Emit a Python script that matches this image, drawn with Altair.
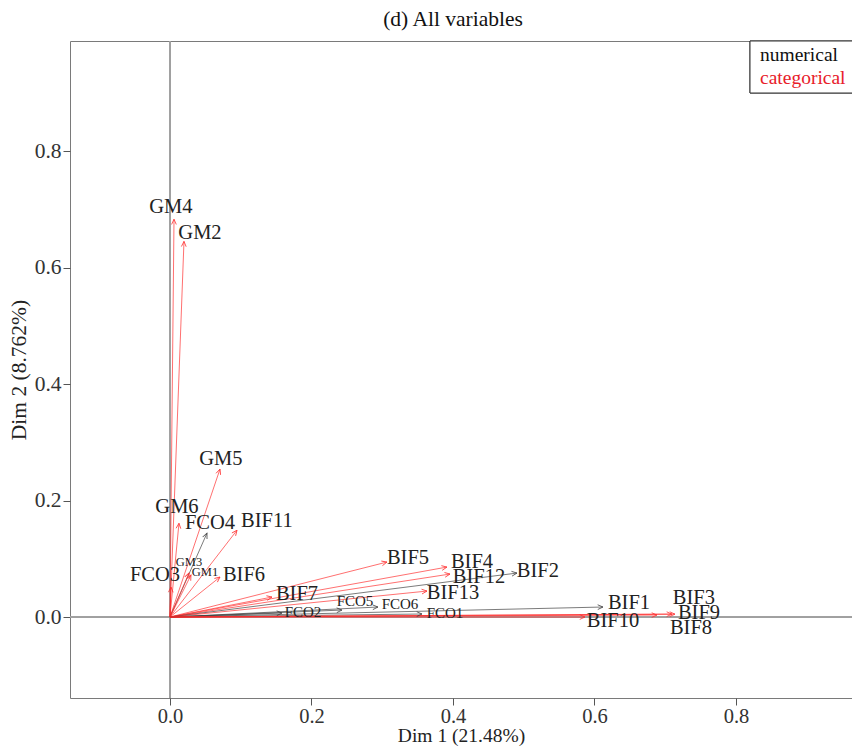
import altair as alt
import pandas as pd

# variable names, type, arrow tips (Dim1, Dim2) and label positions
names = ["GM4", "GM2", "GM5", "GM6", "FCO4", "BIF11", "GM3", "GM1", "FCO3",
         "BIF6", "BIF7", "BIF5", "BIF4", "BIF12", "BIF2", "BIF13", "FCO2",
         "FCO5", "FCO6", "FCO1", "BIF1", "BIF10", "BIF3", "BIF9", "BIF8"]
vtype = ["categorical", "categorical", "categorical", "categorical", "numerical",
         "categorical", "categorical", "categorical", "categorical", "categorical",
         "categorical", "categorical", "categorical", "categorical", "numerical",
         "categorical", "numerical", "numerical", "numerical", "numerical",
         "numerical", "categorical", "categorical", "categorical", "categorical"]
dim1 = [0.0057, 0.0198, 0.0707, 0.0127, 0.0523, 0.0947, 0.0269, 0.0297, 0.0014,
        0.0707, 0.1442, 0.3067, 0.3915, 0.3958, 0.4905, 0.3633, 0.1583,
        0.2431, 0.2940, 0.3562, 0.6120, 0.5866, 0.7095, 0.7138, 0.6883]
dim2 = [0.683, 0.645, 0.254, 0.161, 0.144, 0.149, 0.0755, 0.072, 0.0515,
        0.0687, 0.0343, 0.0944, 0.0858, 0.0738, 0.0755, 0.0446, 0.0069,
        0.012, 0.0172, 0.0052, 0.0172, 0.0, 0.005, 0.005, 0.0034]
lab_x = [0.0014, 0.0424, 0.072, 0.0099, 0.0565, 0.137, 0.0269, 0.0495, -0.0212,
         0.1046, 0.1795, 0.3364, 0.4269, 0.4367, 0.5201, 0.400, 0.188,
         0.2615, 0.3251, 0.3887, 0.6488, 0.6261, 0.7406, 0.7477, 0.7364]
lab_y = [0.704, 0.660, 0.271, 0.189, 0.161, 0.165, 0.0944, 0.0773, 0.0721,
         0.0721, 0.0395, 0.1013, 0.0944, 0.0687, 0.079, 0.0412, 0.0086,
         0.0275, 0.0223, 0.0069, 0.024, -0.0069, 0.0326, 0.0069, -0.0189]
lab_size = [20.5, 20.5, 20.5, 20.5, 20.5, 20.5, 12.5, 12.5, 20.5,
            20.5, 20.5, 20.5, 20.5, 20.5, 20.5, 20.5, 15,
            15, 15, 15, 20.5, 20.5, 20.5, 20.5, 20.5]

x_ticks = [0.0, 0.2, 0.4, 0.6, 0.8]
y_ticks = [0.0, 0.2, 0.4, 0.6, 0.8]
x_domain = [-0.1413, 0.9640]
y_domain = [-0.139, 0.989]
legend_items = ["numerical", "categorical"]

W, H = 782, 657
sx = W / (x_domain[1] - x_domain[0])
sy = H / (y_domain[1] - y_domain[0])

df = pd.DataFrame({"name": names, "type": vtype, "x": dim1, "y": dim2,
                   "lx": lab_x, "ly": lab_y, "ls": lab_size})

FONT = "Liberation Serif"
FS = 21.5
RED = "#ff2a2a"
GREY = "#3a3a3a"

xs = alt.Scale(domain=x_domain, nice=False, zero=False)
ys = alt.Scale(domain=y_domain, nice=False, zero=False)
xax = alt.Axis(values=x_ticks, format=".1f", title="Dim 1 (21.48%)", grid=False)
yax = alt.Axis(values=y_ticks, format=".1f", title="Dim 2 (8.762%)", grid=False)
color = alt.Color("type:N", scale=alt.Scale(domain=legend_items, range=[GREY, RED]), legend=None)

base = alt.Chart(df)

vline = alt.Chart(df).mark_rule(color="#a0a0a0", strokeWidth=1).encode(
    x=alt.datum(0, scale=xs, axis=xax))
hline = alt.Chart(df).mark_rule(color="#a0a0a0", strokeWidth=1).encode(
    y=alt.datum(0, scale=ys, axis=yax))

shafts = base.transform_calculate(zero="0").mark_rule(strokeWidth=0.9, opacity=0.75).encode(
    x=alt.X("zero:Q", scale=xs, axis=xax),
    y=alt.Y("zero:Q", scale=ys, axis=yax),
    x2="x:Q", y2="y:Q", color=color)

heads = base.transform_calculate(
    ang=f"(atan2(datum.x*{sx}, datum.y*{sy})*180/PI + 360) % 360"
).mark_point(shape="M -0.45 1 L 0 0 L 0.45 1", filled=False, size=110,
             strokeWidth=0.9, opacity=0.85).encode(
    x=alt.X("x:Q", scale=xs, axis=xax), y=alt.Y("y:Q", scale=ys, axis=yax),
    angle=alt.Angle("ang:Q", scale=None), color=color)

labels = base.mark_text(font=FONT, color="#222222", align="center", baseline="middle").encode(
    x=alt.X("lx:Q", scale=xs, axis=xax), y=alt.Y("ly:Q", scale=ys, axis=yax),
    text="name:N", size=alt.Size("ls:Q", scale=None, legend=None))

leg_df = pd.DataFrame({"item": legend_items})
leg_box = alt.Chart(leg_df).mark_rect(fill="white", stroke="#333333", strokeWidth=1).encode(
    x=alt.value(680), x2=alt.value(800), y=alt.value(0), y2=alt.value(52))
leg_num = alt.Chart(leg_df).transform_filter(alt.datum.item == legend_items[0]).mark_text(
    font=FONT, fontSize=19.5, align="left", baseline="middle", color="#111111").encode(
    x=alt.value(690), y=alt.value(14), text="item:N")
leg_cat = alt.Chart(leg_df).transform_filter(alt.datum.item == legend_items[1]).mark_text(
    font=FONT, fontSize=19.5, align="left", baseline="middle", color="#e8202a").encode(
    x=alt.value(690), y=alt.value(37), text="item:N")

chart = alt.layer(vline, hline, shafts, heads, labels, leg_box, leg_num, leg_cat).properties(
    width=W, height=H,
    title=alt.Title("(d) All variables", font=FONT, fontSize=FS, fontWeight="normal",
                    color="#111111", anchor="middle", dx=-8, offset=10),
    autosize=alt.AutoSizeParams(type="none"),
    padding={"left": 62, "top": 33, "right": 0, "bottom": 48},
).configure_view(stroke="#7a7a7a", strokeWidth=1).configure_axis(
    labelFont=FONT, titleFont=FONT, labelFontSize=FS, titleFontSize=FS,
    labelColor="#333333", titleColor="#222222", titleFontWeight="normal",
    domain=False, tickColor="#555555", tickSize=7, labelPadding=2,
).configure_axisX(titlePadding=0, titleFontSize=19.5, labelFontSize=20.5,
                  labelPadding=1).configure_axisY(titlePadding=4)

chart.save("out.html", embed_options={"renderer": "svg", "actions": False})
